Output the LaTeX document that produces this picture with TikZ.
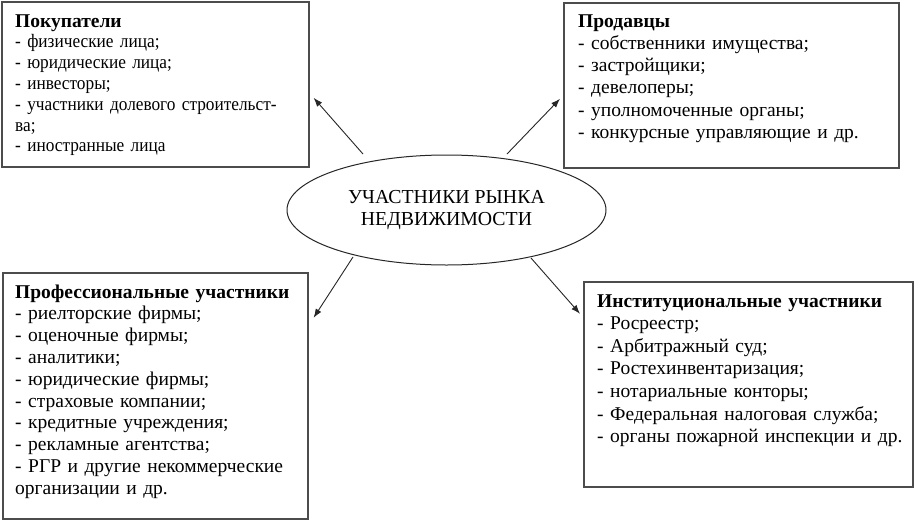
\documentclass[tikz,border=0pt]{standalone}
\usepackage{fontspec}
\setmainfont{Liberation Serif}
\newfontfamily\condfont{Liberation Serif}[FakeStretch=0.91]
\usetikzlibrary{arrows.meta,shapes.geometric}
\newcommand{\ttl}[1]{{\fontsize{19.5}{20}\selectfont\rmfamily\bfseries #1}}
\begin{document}
\begin{tikzpicture}[x=1pt,y=-1pt,
  box/.style={draw=black!70,line width=1.6pt,anchor=north west,inner sep=0pt},
  txt/.style={anchor=base west,inner sep=0pt,align=left,text width=340pt,
    font=\fontsize{19.5}{21.6}\selectfont},
  arr/.style={draw=black!85,line width=0.9pt,-{Latex[length=9pt,width=6.5pt]}},
  ell/.style={ellipse,draw=black!85,line width=1pt,minimum width=319pt,minimum height=110pt,
    align=center,font=\fontsize{19.8}{22}\selectfont,inner sep=0pt}]
\useasboundingbox (0,0) rectangle (914,520);
\fill[white] (0,0) rectangle (914,520);
% boxes
\node[box,minimum width=307pt,minimum height=165pt] (tl) at (1,1) {};
\node[box,minimum width=335pt,minimum height=165pt] (tr) at (563,2) {};
\node[box,minimum width=305pt,minimum height=246pt] (bl) at (2,272) {};
\node[box,minimum width=329pt,minimum height=205pt] (br) at (583,281) {};
% texts
\node[txt,font=\condfont\fontsize{19}{20.8}\selectfont] (tlt) at (15,27) {\ttl{Покупатели}\\
- физические лица;\\
- юридические лица;\\
- инвесторы;\\
- участники долевого строительст-\\
ва;\\
- иностранные лица};
\node[txt,font=\fontsize{19.5}{22.3}\selectfont] (trt) at (578,27) {\ttl{Продавцы}\\
- собственники имущества;\\
- застройщики;\\
- девелоперы;\\
- уполномоченные органы;\\
- конкурсные управляющие и др.};
\node[txt,font=\fontsize{19.5}{21.8}\selectfont] (blt) at (15,298) {\ttl{Профессиональные участники}\\
- риелторские фирмы;\\
- оценочные фирмы;\\
- аналитики;\\
- юридические фирмы;\\
- страховые компании;\\
- кредитные учреждения;\\
- рекламные агентства;\\
- РГР и другие некоммерческие\\
организации и др.};
\node[txt,font=\fontsize{19.5}{22.6}\selectfont] (brt) at (597,307) {\ttl{Институциональные участники}\\
- Росреестр;\\
- Арбитражный суд;\\
- Ростехинвентаризация;\\
- нотариальные конторы;\\
- Федеральная налоговая служба;\\
- органы пожарной инспекции и др.};
% ellipse
\node[ell] (c) at (446.5,210) {УЧАСТНИКИ РЫНКА\\НЕДВИЖИМОСТИ};
% arrows
\draw[arr] ([shift={(-83.5,-56)}]c.center) -- ([shift={(4,13.5)}]tl.east);
\draw[arr] ([shift={(60.5,-56)}]c.center) -- ([shift={(-3,13.5)}]tr.west);
\draw[arr] ([shift={(-93.5,47)}]c.center) -- ([shift={(5,-78)}]bl.east);
\draw[arr] ([shift={(84.5,48)}]c.center) -- ([shift={(-3,-70.5)}]br.west);
\end{tikzpicture}
\end{document}
